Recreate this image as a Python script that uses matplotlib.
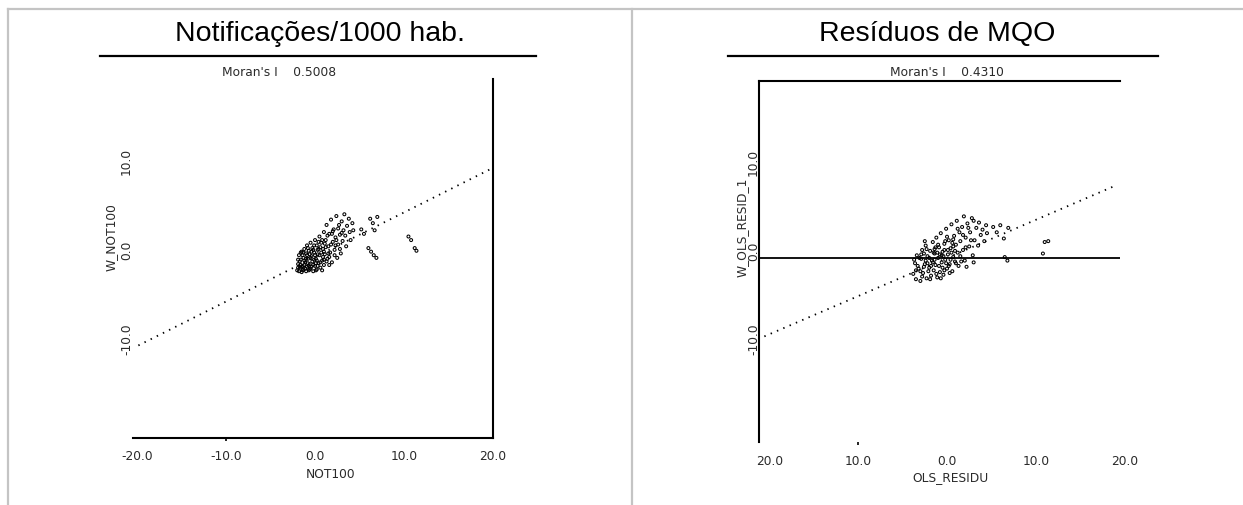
import matplotlib
matplotlib.use("Agg")
import matplotlib.pyplot as plt
from matplotlib.lines import Line2D
import matplotlib.transforms as mtransforms

# ---------------- data ----------------
titles = ["Notificações/1000 hab.", "Resíduos de MQO"]
moran_values = [0.5008, 0.4310]
x_labels = ["NOT100", "OLS_RESIDU"]
y_labels = ["W_NOT100", "W_OLS_RESID_1"]
x_tick_pos = [-20, -10, 0, 10, 20]
x_tick_text_left = ["-20.0", "-10.0", "0.0", "10.0", "20.0"]
x_tick_text_right = ["20.0", "10.0", "0.0", "10.0", "20.0"]
y_tick_pos = [10, 0, -10]
y_tick_text = ["10.0", "0.0", "-10.0"]

not100_x = [-2.0, -1.9, -1.8, -1.8, -1.7, -1.6, -1.5, -1.5, -1.4, -1.3, -1.3, -1.2, -1.1, -1.0,
            -1.0, -0.9, -0.9, -0.8, -0.7, -0.7, -0.6, -0.5, -0.5, -0.4, -0.3, -0.3, -0.2, -0.1,
            0.0, 0.0, 0.1, 0.2, 0.2, 0.3, 0.4, 0.5, 0.5, 0.6, 0.7, 0.8, 0.9, 1.0, 1.0, 1.1, 1.2,
            1.3, 1.4, 1.5, 1.6, 1.7, 1.8, 1.9, 2.0, 2.1, 2.2, 2.3, 2.4, 2.5, 2.6, 2.7, 2.8, 2.9,
            3.0, 3.1, 3.2, 3.3, 3.4, 3.5, 3.6, 3.8, 3.9, 4.0, 4.2, 4.3,
            -1.9, -1.6, -1.4, -1.1, -0.8, -0.6, -0.4, -0.2, 0.1, 0.3, 0.6, 0.8, 1.0, 1.3, 1.6,
            -1.2, -0.1, 0.4,
            -1.7, -1.5, -1.3, -1.0, -0.8, -0.6, -0.4, -0.2, 0.0, 0.2, 0.4, 0.6, 0.8, 1.0, 1.2,
            1.4, 1.6, 1.8, 2.0, 2.2, 2.4, 2.6, 2.8, 3.0, -1.9, -1.6, -1.2, -0.9, -0.5, -0.1,
            0.3, 0.7, 1.1, 1.5, 1.9, 2.3, -1.4, -0.7, 0.1, 0.9,
            5.2, 5.5, 6.2, 6.5, 6.7, 7.0, 6.0, 6.3, 6.6, 6.9, 10.5, 10.8, 11.2, 11.4]
w_not100 = [-1.5, -0.8, -1.6, 0.2, -1.2, -0.3, -1.7, 0.6, -1.0, -0.1, -1.4, 0.9, -0.6, -1.6,
            0.4, -1.1, 1.3, -0.2, -1.5, 0.7, -0.8, 1.6, -1.3, 0.1, -0.5, 1.0, -1.6, 0.5,
            -1.0, 1.9, -0.2, 1.3, -1.4, 0.8, -0.7, 2.3, 0.2, -1.2, 1.6, -0.4, 0.9, 2.8, -0.9, 0.3, 1.9,
            3.6, -0.2, 1.2, 2.6, 0.5, 4.2, -0.6, 1.7, 3.1, 0.8, 2.2, 4.6, -0.1, 1.4, 3.6, 2.5, 0.4,
            4.0, 1.8, 3.0, 4.8, 2.4, 1.2, 3.5, 4.3, 2.8, 1.9, 3.8, 3.0,
            -1.2, -0.9, 0.2, -1.3, -0.7, 0.3, -1.1, 0.8, -0.7, 0.3, 1.1, -1.5, 0.6, -0.5, 0.0,
            -0.4, -0.3, 1.7,
            -0.5, -1.1, 0.5, -0.2, 1.0, -1.4, 0.6, -0.9, 0.2, -0.4, 0.9, -0.6, 1.9, -0.3, 1.1,
            2.4, -0.9, 1.4, 2.9, 0.2, 1.9, 3.2, 0.9, 2.7, -0.3, 0.5, -0.9, 0.2, -0.1, 1.3,
            -1.0, 0.5, 1.5, 0.4, 2.6, 1.3, -1.5, -1.0, -1.5, 0.0,
            3.1, 2.6, 4.3, 3.8, 3.0, 4.5, 1.0, 0.6, 0.2, -0.1, 2.3, 1.9, 1.0, 0.7]

ols_resid = [-3.8, -3.6, -3.5, -3.4, -3.2, -3.0, -2.9, -2.8, -2.7, -2.5, -2.4, -2.3, -2.2, -2.0,
             -1.9, -1.8, -1.7, -1.6, -1.5, -1.4, -1.3, -1.2, -1.1, -1.0, -0.9, -0.8, -0.7, -0.6,
             -0.5, -0.4, -0.3, -0.2, -0.1, 0.0, 0.1, 0.2, 0.3, 0.4, 0.5, 0.6, 0.7, 0.8, 0.9, 1.0,
             1.1, 1.2, 1.3, 1.4, 1.5, 1.7, 1.8, 1.9, 2.0, 2.1, 2.2, 2.3, 2.5, 2.6, 2.8, 2.9, 3.0,
             3.1, 3.3, 3.5, 3.6, 3.8, 4.0, 4.2, 4.4, 4.5,
             -3.3, -2.6, -2.1, -1.6, -1.4, -0.9, -0.6, -0.3, 0.1, 0.4, -2.4, -1.1, 0.7, -0.1,
             -3.5, -3.1, -2.8, -2.6, -2.3, -2.0, -1.8, -1.5, -1.2, -1.0, -0.8, -0.5, -0.3, 0.0,
             0.2, 0.5, 0.7, 1.0, 1.2, 1.5, 1.8, 2.1, 2.4, 2.7, 3.0, -3.7, -3.0, -2.5, -1.9, -1.3,
             -0.7, -0.2, 0.3, 0.9, 1.6, -2.9, -2.2, -1.4, -0.4, 0.6,
             5.2, 5.6, 6.0, 6.4, 6.9, 6.5, 6.8, 11.0, 11.4, 10.8]
w_ols_resid = [-1.8, -0.6, -2.4, 0.3, -1.2, -2.6, -0.1, 0.9, -1.7, -0.7, 1.4, -2.3, 0.2, -1.1,
               0.8, -2.0, -0.3, 1.8, -1.4, 0.5, -0.8, 2.3, -2.2, 0.0, 1.2, -1.6, 2.8, -0.5,
               0.7, -1.9, 1.6, -0.2, 3.3, -1.2, 0.4, 2.0, -0.7, 1.1, 3.8, -1.5, 0.1, 2.5, -0.4, 1.5,
               4.2, 0.6, -0.9, 2.9, 1.9, 3.5, 0.9, 4.7, -0.3, 2.3, -1.0, 3.9, 1.3, 2.9, 4.5, 0.3, -0.5,
               2.0, 3.4, 1.4, 4.0, 2.6, 3.2, 1.9, 3.7, 2.8,
               -0.9, 0.5, -1.5, -0.5, 1.0, -0.9, 0.3, -1.4, 0.9, -0.2, -0.3, 0.6, 1.3, -0.6,
               -1.4, 0.0, -2.1, -1.0, 1.0, 0.0, -0.9, 0.6, -1.8, 1.5, 0.4, -1.1, 0.9, 2.4,
               -0.9, 0.6, 2.1, -0.6, 3.3, 0.2, 2.6, 1.2, 3.4, 2.0, 4.2, -0.2, -1.5, 1.9, -2.4, 1.2,
               -2.3, 1.9, -1.7, 0.8, -0.4, 0.4, -0.6, -0.2, 0.2, 1.7,
               3.5, 2.9, 3.7, 2.2, 3.4, 0.1, -0.3, 1.8, 1.9, 0.5]

# ---------------- figure ----------------
W, H = 1243, 506
fig = plt.figure(figsize=(W / 100, H / 100), dpi=100)
fig.patch.set_facecolor("white")


def fx(px):
    return px / W


def fy(py):
    return 1 - py / H


grey = "#c4c4c4"
# table borders
fig.add_artist(Line2D([fx(8), fx(1243)], [fy(10), fy(10)], color=grey, lw=1.6))
fig.add_artist(Line2D([fx(8), fx(8)], [fy(10), fy(506)], color=grey, lw=1.6))
fig.add_artist(Line2D([fx(632), fx(632)], [fy(10), fy(506)], color=grey, lw=1.6))

# titles and underlines
fig.text(fx(320), fy(34), titles[0], ha="center", va="center", fontsize=20.5,
         family="Liberation Sans", color="black")
fig.text(fx(937), fy(34), titles[1], ha="center", va="center", fontsize=20.5,
         family="Liberation Sans", color="black")
fig.add_artist(Line2D([fx(100), fx(536)], [fy(57), fy(57)], color="black", lw=1.6))
fig.add_artist(Line2D([fx(728), fx(1158)], [fy(57), fy(57)], color="black", lw=1.6))

small = dict(fontsize=8.8, family="DejaVu Sans", color="#2a2a2a")
fig.text(fx(279), fy(72), f"Moran's I    {moran_values[0]:.4f}", ha="center", va="center", **small)
fig.text(fx(947), fy(72), f"Moran's I    {moran_values[1]:.4f}", ha="center", va="center", **small)

# axes
axL = fig.add_axes([fx(133), fy(439), (493 - 133) / W, (439 - 80) / H])
axR = fig.add_axes([fx(759), fy(443), (1120 - 759) / W, (443 - 82) / H])
axL.set_xlim(-20.45, 20.0)
axL.set_ylim(-20.34, 20.0)
axR.set_xlim(-21.17, 19.48)
axR.set_ylim(-20.8, 20.0)

panels = [
    (axL, not100_x, w_not100, moran_values[0], x_tick_text_left, 0.0),
    (axR, ols_resid, w_ols_resid, moran_values[1], x_tick_text_right, 0.003),
]
up = mtransforms.ScaledTranslation(0, 8 / 100, fig.dpi_scale_trans)
for ax, xs, ys, slope, xt, ylx in panels:
    ax.set_facecolor("none")
    ax.scatter(xs, ys, s=4.5, facecolors="none", edgecolors="black", linewidths=0.75, zorder=3)
    x0, x1 = ax.get_xlim()
    ax.plot([x0 + 0.6, x1 - 0.4], [slope * (x0 + 0.6), slope * (x1 - 0.4)],
            color="black", lw=1.3, linestyle=(0, (0.8, 3.0)), zorder=2)
    ax.set_xticks([-10])
    ax.set_xticklabels([""])
    ax.tick_params(axis="x", length=2.5, width=1.2, direction="out")
    ax.set_yticks([])
    for p, t in zip(x_tick_pos, xt):
        ax.text(p, -0.05, t, transform=ax.get_xaxis_transform(), ha="center", va="center",
                clip_on=False, **small)
    ytr = mtransforms.blended_transform_factory(ax.transAxes, ax.transData) + up
    for p, t in zip(y_tick_pos, y_tick_text):
        ax.text(ylx, p, t, transform=ytr, rotation=90, ha="right", va="center",
                clip_on=False, **small)

axL.text(0.55, -0.10, x_labels[0], transform=axL.transAxes, ha="center", va="center", **small)
axR.text(0.53, -0.095, x_labels[1], transform=axR.transAxes, ha="center", va="center", **small)
axL.text(-0.060, 0.563, y_labels[0], transform=axL.transAxes, rotation=90, ha="center",
         va="center", **small)
axR.text(-0.047, 0.598, y_labels[1], transform=axR.transAxes, rotation=90, ha="center",
         va="center", **small)

# spines
for s in ["left", "top"]:
    axL.spines[s].set_visible(False)
for s in ["bottom", "right"]:
    axL.spines[s].set_linewidth(1.5)
for s in ["bottom", "right"]:
    axR.spines[s].set_visible(False)
for s in ["left", "top"]:
    axR.spines[s].set_linewidth(1.5)
axR.axhline(0, color="black", lw=1.3, zorder=1)

fig.savefig("out.png", dpi=100)
